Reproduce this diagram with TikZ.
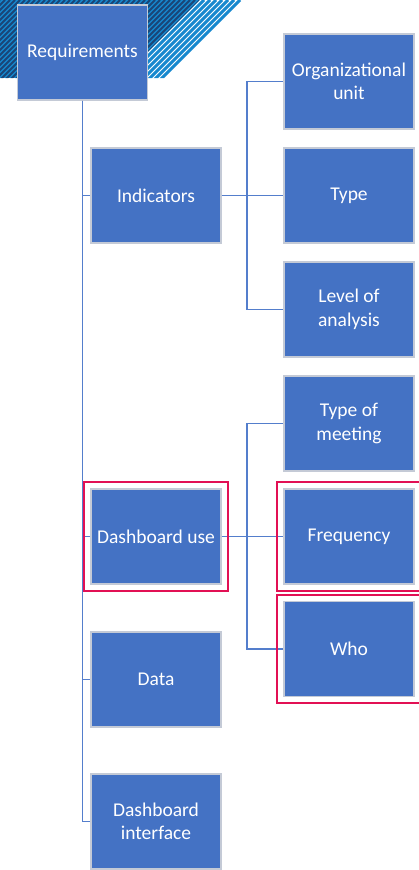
\documentclass[tikz,border=0pt]{standalone}
\usepackage{fontspec}
\setmainfont{Carlito}
\usepackage{tikz}
\usetikzlibrary{fit}
\definecolor{boxfill}{RGB}{68, 114, 196}
\definecolor{boxedge}{RGB}{196, 202, 214}
\definecolor{linkink}{RGB}{84, 126, 204}
\definecolor{markred}{RGB}{226, 16, 84}
\definecolor{stripeblue}{RGB}{22, 136, 206}
\definecolor{stripenavy}{RGB}{26, 70, 120}

\begin{document}
\begin{tikzpicture}[x=1pt, y=-1pt,
  box/.style={draw=boxedge, line width=1.2pt, fill=boxfill, text=white,
    minimum width=130pt, minimum height=95pt, inner sep=2pt, align=center,
    font=\fontsize{19.5}{23.5}\selectfont},
  link/.style={linkink, line width=1.8pt},
  hilite/.style={draw=markred, line width=2pt, inner sep=6pt}]
  \useasboundingbox (0,0) rectangle (419,870);

  % striped band behind the top box
  \begin{scope}
    \clip (0,0) -- (200,0) -- (122,78) -- (0,78) -- cycle;
    \fill[stripeblue] (0,0) rectangle (243,78);
    \foreach \s in {0,5,...,300}
      \draw[stripenavy, line width=2pt] (\s,0) -- ++(-80,80);
  \end{scope}
  \begin{scope}
    \clip (200,0) -- (243,0) -- (165,78) -- (122,78) -- cycle;
    \fill[white] (0,0) rectangle (243,78);
    \foreach \s in {0,6,...,300}
      \draw[stripeblue, line width=3pt] (\s,0) -- ++(-80,80);
  \end{scope}

  % boxes
  \node[box] (req) at (82.5,52.5) {Requirements};
  \node[box] (ind) at (156,195.5) {Indicators};
  \node[box] (orgunit) at (349,81.5) {Organizational\\unit};
  \node[box] (type) at (349,195.5) {Type};
  \node[box] (level) at (349,309.5) {Level of\\analysis};
  \node[box] (meeting) at (349,423.5) {Type of\\meeting};
  \node[box] (dashuse) at (156,536.5) {Dashboard use};
  \node[box] (freq) at (349,536.5) {Frequency};
  \node[box] (who) at (349,649) {Who};
  \node[box] (data) at (156,679.5) {Data};
  \node[box] (dashint) at (156,821.5) {Dashboard\\interface};

  % tree links
  \foreach \n in {ind, dashuse, data, dashint}
    \draw[link] (req.south) |- (\n.west);
  \coordinate (indfork) at (247,195.5);
  \coordinate (usefork) at (247,536.5);
  \draw[link] (ind.east) -- (type.west);
  \draw[link] (indfork) |- (orgunit.west);
  \draw[link] (indfork) |- (level.west);
  \draw[link] (dashuse.east) -- (freq.west);
  \draw[link] (usefork) |- (meeting.west);
  \draw[link] (usefork) |- (who.west);

  % marked boxes
  \node[hilite, fit=(dashuse)] (markuse) {};
  \node[hilite, fit=(freq)] (markfreq) {};
  \node[hilite, fit=(who)] (markwho) {};
\end{tikzpicture}
\end{document}
